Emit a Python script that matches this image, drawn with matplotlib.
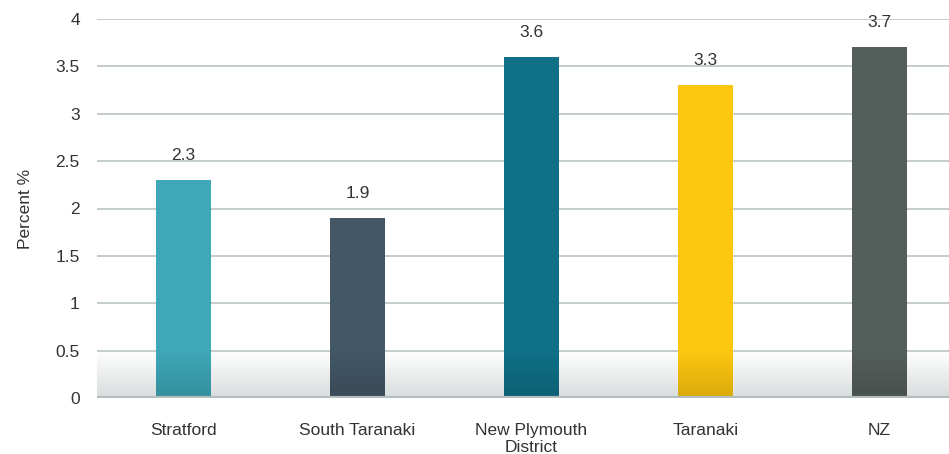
import numpy as np
import matplotlib
matplotlib.use('Agg')
import matplotlib.pyplot as plt
from matplotlib.colors import to_rgb

# Datos del gráfico
categorias = ['Stratford', 'South Taranaki', 'New Plymouth\nDistrict', 'Taranaki', 'NZ']
valores = [2.3, 1.9, 3.6, 3.3, 3.7]
colores = ['#3ea8b9', '#435767', '#0f7087', '#fec70f', '#545e5b']
ticks_y = [0, 0.5, 1, 1.5, 2, 2.5, 3, 3.5, 4]
etiquetas_y = ['0', '0.5', '1', '1.5', '2', '2.5', '3', '3.5', '4']

plt.rcParams['font.family'] = ['Liberation Sans', 'DejaVu Sans']
texto = '#333333'
tam = 12.5

fig = plt.figure(figsize=(9.49, 4.54), dpi=100)
# El área del gráfico se extiende más allá del borde derecho, como en la imagen
ax = fig.add_axes([96.5 / 949, 56 / 454, 870 / 949, 379 / 454])

x = np.arange(len(categorias))

# Banda degradada del fondo entre 0 y 0.5 (blanco arriba, gris abajo)
fondo = np.ones((100, 1, 4))
c_abajo = np.array(to_rgb('#d9dddd'))
for i, t in enumerate(np.linspace(0, 1, 100)):
    fondo[i, 0, :3] = (1 - t) * np.array([1, 1, 1]) + t * c_abajo
ax.imshow(fondo, extent=(-0.5, len(categorias) - 0.5, 0, 0.5), aspect='auto',
          origin='upper', zorder=0, interpolation='bilinear')

# Líneas de la cuadrícula
for t in ticks_y[1:]:
    ax.axhline(t, color='#c5cccc', linewidth=1.4, zorder=1)
ax.axhline(0, color='#b3bdbd', linewidth=3, zorder=4)

barras = ax.bar(x, valores, width=0.316, color=colores, zorder=2)

# Oscurecer la base de cada barra con un degradado
sombra = np.zeros((100, 1, 4))
sombra[:, 0, 3] = np.linspace(0.15, 0, 100)
for b in barras:
    im = ax.imshow(sombra, extent=(b.get_x(), b.get_x() + b.get_width(), 0, 0.5),
                   aspect='auto', origin='lower', zorder=3, interpolation='bilinear')
    im.set_clip_path(b)

for xi, v in zip(x, valores):
    ax.text(xi, v + 0.26, f'{v}', ha='center', va='center', fontsize=tam, color=texto)

ax.set_xlim(-0.5, len(categorias) - 0.5)
ax.set_ylim(0, 4)
ax.set_yticks(ticks_y)
ax.set_yticklabels(etiquetas_y, fontsize=tam, color=texto)
ax.set_xticks(x)
ax.set_xticklabels(categorias, fontsize=tam, color=texto, linespacing=1.2)
ax.tick_params(axis='both', length=0)
ax.tick_params(axis='y', pad=12)
ax.tick_params(axis='x', pad=18)
ax.set_ylabel('Percent %', fontsize=tam, color=texto, labelpad=16)

for s in ax.spines.values():
    s.set_visible(False)

fig.savefig('out.png', dpi=100)
